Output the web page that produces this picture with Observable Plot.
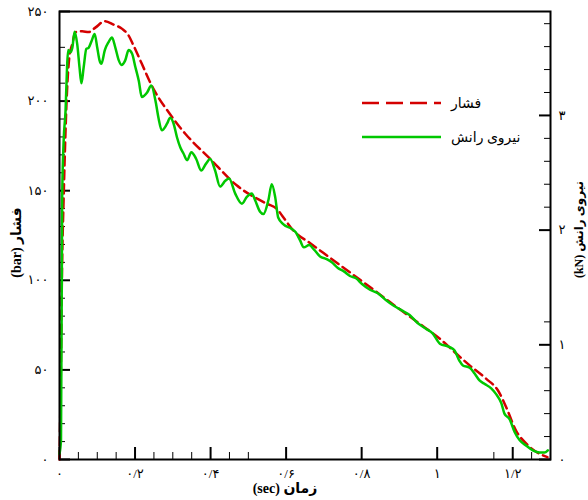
<!DOCTYPE html>
<html>
<head>
<meta charset="utf-8">
<script src="https://cdn.jsdelivr.net/npm/d3@7"></script>
<script src="https://cdn.jsdelivr.net/npm/@observablehq/plot@0.6"></script>
<style>
  body { margin: 0; background: #fff; }
  #wrap { position: relative; width: 588px; height: 500px; }
  #legend { position: absolute; left: 0; top: 0; }
</style>
</head>
<body>
<div id="wrap"></div>
<script>
// ---- data ----
// Pressure (bar) vs time (sec)
const timeRed = [0, 0.003, 0.007, 0.011, 0.02, 0.026, 0.034, 0.042, 0.06, 0.077, 0.095, 0.12, 0.143, 0.166, 0.183, 0.196, 0.218, 0.24, 0.262, 0.289, 0.315, 0.333, 0.4, 0.469, 0.549, 0.575, 0.593, 0.619, 0.663, 0.716, 0.769, 0.822, 0.874, 0.927, 0.967, 1.007, 1.051, 1.086, 1.13, 1.161, 1.183, 1.209, 1.236, 1.271, 1.292];
const pressure = [0, 40, 110, 146, 206, 224.5, 232, 238.5, 239, 238.5, 241, 244.6, 242.7, 240.3, 236.6, 231, 220.8, 210.5, 202, 193.8, 186.4, 181.8, 167.5, 153, 142.7, 140, 135, 127.8, 120.8, 112.6, 104.4, 96.2, 88, 79.8, 73.7, 67.4, 59, 52.5, 45, 38.5, 29, 16, 8.8, 3.2, 1.3];

// Thrust (kN) vs time (sec)
const timeGreen = [0, 0.004, 0.007, 0.011, 0.016, 0.020, 0.023, 0.029, 0.034, 0.040, 0.047, 0.053, 0.058, 0.064, 0.071, 0.077, 0.085, 0.093, 0.100, 0.106, 0.111, 0.120, 0.130, 0.139, 0.148, 0.157, 0.164, 0.174, 0.183, 0.192, 0.201, 0.210, 0.218, 0.232, 0.243, 0.254, 0.262, 0.271, 0.285, 0.293, 0.302, 0.311, 0.320, 0.328, 0.338, 0.349, 0.362, 0.375, 0.388, 0.399, 0.412, 0.425, 0.439, 0.449, 0.465, 0.483, 0.496, 0.509, 0.518, 0.531, 0.540, 0.553, 0.562, 0.571, 0.579, 0.593, 0.615, 0.626, 0.637, 0.647, 0.661, 0.674, 0.690, 0.705, 0.721, 0.737, 0.753, 0.769, 0.785, 0.801, 0.822, 0.843, 0.864, 0.885, 0.906, 0.927, 0.948, 0.970, 0.988, 1.007, 1.033, 1.046, 1.059, 1.068, 1.086, 1.099, 1.112, 1.125, 1.143, 1.156, 1.170, 1.178, 1.192, 1.205, 1.218, 1.236, 1.253, 1.271, 1.284, 1.293];
const thrust = [0.05, 0.17, 2.26, 2.78, 3.04, 3.42, 3.57, 3.55, 3.59, 3.73, 3.62, 3.42, 3.28, 3.42, 3.58, 3.59, 3.65, 3.71, 3.59, 3.48, 3.45, 3.57, 3.64, 3.68, 3.59, 3.48, 3.44, 3.48, 3.57, 3.54, 3.42, 3.30, 3.16, 3.20, 3.26, 3.13, 2.98, 2.87, 2.93, 2.98, 2.93, 2.81, 2.72, 2.67, 2.61, 2.68, 2.62, 2.52, 2.58, 2.62, 2.52, 2.38, 2.43, 2.45, 2.32, 2.23, 2.29, 2.32, 2.26, 2.16, 2.14, 2.26, 2.40, 2.29, 2.11, 2.05, 2.01, 1.98, 1.91, 1.85, 1.87, 1.83, 1.77, 1.75, 1.72, 1.67, 1.64, 1.60, 1.58, 1.53, 1.48, 1.45, 1.39, 1.34, 1.30, 1.26, 1.19, 1.14, 1.10, 1.01, 0.98, 0.95, 0.86, 0.82, 0.80, 0.75, 0.69, 0.66, 0.62, 0.57, 0.49, 0.40, 0.35, 0.24, 0.17, 0.12, 0.08, 0.06, 0.06, 0.08];

// Axis relationship: 1 kN on the right axis equals this many bar on the left axis
const barPerKN = 64;

// ticks
const xMajor = [0, 0.2, 0.4, 0.6, 0.8, 1, 1.2];
const xMinor = [0.05, 0.1, 0.15, 0.25, 0.3, 0.35, 0.45, 0.5, 1.15, 1.25];
const yMajor = [0, 50, 100, 150, 200, 250];
const yMinor = [10, 20, 30, 40, 60, 70, 80, 90, 110, 120, 130, 140, 160, 170, 180, 190, 210, 220, 230];
const kNMajor = [0, 1, 2, 3];
const kNMinor = [0.2, 0.4, 0.6, 0.8, 1.2, 2.2, 2.4, 2.6, 2.8, 3.2, 3.4, 3.6, 3.8];

// text
const seriesNames = ["فشار", "نیروی رانش"];
const xTitle = "(sec) زمان";
const yTitle = "(bar) فشار";
const y2Title = "(kN) نیروی رانش";
const colors = ["#d40000", "#00c800"];

// ---- build ----
const fa = v => String(v).replace(/[0-9]/g, c => "۰۱۲۳۴۵۶۷۸۹"[+c]).replace(".", "/");
const redData = timeRed.map((t, i) => ({t, v: pressure[i]}));
const greenData = timeGreen.map((t, i) => ({t, v: thrust[i]}));
const blank = () => "";
const font = "'Liberation Serif', 'DejaVu Sans', serif";

const chart = Plot.plot({
  width: 588,
  height: 500,
  marginLeft: 59,
  marginRight: 38,
  marginTop: 11,
  marginBottom: 41,
  style: {fontFamily: font, fontSize: "13px", color: "#000", background: "#fff"},
  x: {domain: [0, 1.3], label: null},
  y: {domain: [0, 250], label: null},
  marks: [
    // left axis (inward ticks)
    Plot.axisY({ticks: yMajor, tickSize: 11, dx: 11, tickFormat: blank, strokeWidth: 2, label: null}),
    Plot.axisY({ticks: yMinor, tickSize: 6, dx: 6, tickFormat: blank, strokeWidth: 1, label: null}),
    Plot.axisY({ticks: yMajor, tickSize: 0, tickPadding: 11, tickFormat: fa, fontSize: 13, label: null}),
    // right axis (kN)
    Plot.axisY({anchor: "right", ticks: kNMajor.map(k => k * barPerKN), tickSize: 12, dx: -12, tickFormat: blank, strokeWidth: 2, label: null}),
    Plot.axisY({anchor: "right", ticks: kNMinor.map(k => k * barPerKN), tickSize: 7, dx: -7, tickFormat: blank, strokeWidth: 1, label: null}),
    Plot.axisY({anchor: "right", ticks: kNMajor.map(k => k * barPerKN), tickSize: 0, tickPadding: 8, tickFormat: v => fa(Math.round(v / barPerKN)), fontSize: 13, label: null}),
    // bottom axis
    Plot.axisX({ticks: xMajor, tickSize: 12, dy: -12, tickFormat: blank, strokeWidth: 2, label: null}),
    Plot.axisX({ticks: xMinor, tickSize: 7, dy: -7, tickFormat: blank, strokeWidth: 1, label: null}),
    Plot.axisX({ticks: xMajor, tickSize: 0, tickPadding: 9, tickFormat: fa, fontSize: 13, label: null}),
    // titles
    Plot.text([yTitle], {frameAnchor: "left", textAnchor: "middle", dx: -43, dy: 7, rotate: -90, fontSize: 14, fontWeight: "bold"}),
    Plot.text([y2Title], {frameAnchor: "right", textAnchor: "middle", dx: 29, dy: -6, rotate: -90, fontSize: 12, fontWeight: "bold"}),
    Plot.text([xTitle], {frameAnchor: "bottom", textAnchor: "middle", dx: -20, dy: 33, fontSize: 14, fontWeight: "bold"}),
    // series
    Plot.line(redData, {x: "t", y: "v", stroke: colors[0], strokeWidth: 2.5, strokeDasharray: "9,5", curve: "monotone-x"}),
    Plot.line(greenData, {x: "t", y: d => d.v * barPerKN, stroke: colors[1], strokeWidth: 2.5, curve: "monotone-x"}),
    Plot.frame({stroke: "#000", strokeWidth: 2})
  ]
});

const wrap = document.getElementById("wrap");
wrap.appendChild(chart);

// legend overlay
const ns = "http://www.w3.org/2000/svg";
const leg = document.createElementNS(ns, "svg");
leg.setAttribute("id", "legend");
leg.setAttribute("width", 588);
leg.setAttribute("height", 500);
const legItems = [
  {name: seriesNames[0], color: colors[0], dash: "17,7", y: 103},
  {name: seriesNames[1], color: colors[1], dash: null, y: 137}
];
legItems.forEach(it => {
  const l = document.createElementNS(ns, "line");
  l.setAttribute("x1", 362); l.setAttribute("x2", 441);
  l.setAttribute("y1", it.y); l.setAttribute("y2", it.y);
  l.setAttribute("stroke", it.color); l.setAttribute("stroke-width", 2.5);
  if (it.dash) l.setAttribute("stroke-dasharray", it.dash);
  leg.appendChild(l);
  const tx = document.createElementNS(ns, "text");
  tx.setAttribute("x", 451); tx.setAttribute("y", it.y);
  tx.setAttribute("dy", "0.35em");
  tx.setAttribute("font-size", 14);
  tx.setAttribute("font-family", font);
  tx.textContent = it.name;
  leg.appendChild(tx);
});
wrap.appendChild(leg);
</script>
</body>
</html>
